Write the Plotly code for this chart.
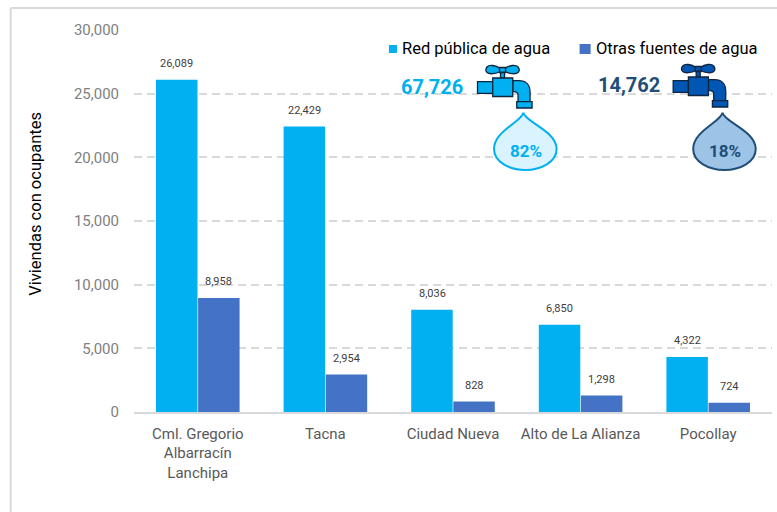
import plotly.graph_objects as go

W, H = 777, 512
L, R, T, B = 134.25, 771.75, 30, 412

categories = ["Cml. Gregorio<br>Albarracín<br>Lanchipa", "Tacna", "Ciudad Nueva", "Alto de La Alianza", "Pocollay"]
red_publica = [26089, 22429, 8036, 6850, 4322]
otras_fuentes = [8958, 2954, 828, 1298, 724]
y_ticks = [0, 5000, 10000, 15000, 20000, 25000, 30000]
series_names = ["Red pública de agua", "Otras fuentes de agua"]
totals = ["67,726", "14,762"]
shares = ["82%", "18%"]

FONT = "Roboto"
C1, C2 = "#00B0F0", "#4472C4"
NAVY = "#1F4E79"
LAB = "#595959"
EDGE = "#10253F"


def px(x):
    return (x - L) / (R - L)


def py(y):
    return (B - y) / (B - T)


def d_path(spec, dx=0, dy=0):
    """spec: list of (command, x, y, x, y, ...) in page pixels."""
    parts = []
    for item in spec:
        cmd, nums = item[0], item[1:]
        coords = []
        for i in range(0, len(nums), 2):
            coords.append(f"{px(nums[i] + dx):.5f},{py(nums[i + 1] + dy):.5f}")
        parts.append(cmd + " ".join(coords))
    return " ".join(parts) + " Z"


def paper_shape(spec, dx, dy, fill, edge=EDGE, width=1.3):
    return dict(type="path", xref="paper", yref="paper", path=d_path(spec, dx, dy), fillcolor=fill,
                line=dict(color=edge, width=width), layer="above")


HANDLE_L = [("M", 500, 68.5), ("C", 496, 65, 489, 64.5, 487, 67), ("C", 485.5, 69, 485.5, 71, 487, 72.5),
            ("C", 489, 74.5, 496, 74, 500, 71.5)]
HANDLE_R = [("M", 505, 68.5), ("C", 509, 65, 516, 64.5, 518, 67), ("C", 519.5, 69, 519.5, 71, 518, 72.5),
            ("C", 516, 74.5, 509, 74, 505, 71.5)]
KNOB = [("M", 499.5, 67.5), ("L", 505.5, 67.5), ("L", 505.5, 72.5), ("L", 499.5, 72.5)]
STEM = [("M", 500.5, 72.5), ("L", 504.5, 72.5), ("L", 504.5, 78), ("L", 500.5, 78)]
INLET = [("M", 477.5, 81.7), ("L", 492.7, 81.7), ("L", 492.7, 93.3), ("L", 477.5, 93.3)]
SPOUT = [("M", 512.7, 80.7), ("L", 519, 80.7), ("C", 526, 80.7, 530, 85, 530, 92), ("L", 530, 101.7),
         ("L", 518, 101.7), ("L", 518, 95), ("C", 518, 93, 516, 91.7, 514, 91.7), ("L", 512.7, 91.7)]
OUTLET = [("M", 516.7, 101.7), ("L", 532, 101.7), ("L", 532, 108), ("L", 516.7, 108)]
BODY = [("M", 492.7, 78), ("L", 512.7, 78), ("L", 512.7, 96.5), ("L", 492.7, 96.5)]
DROP = [("M", 523.3, 112.7), ("C", 525, 122, 556.5, 131, 556.5, 149), ("C", 556.5, 162, 541, 170, 525.3, 170),
        ("C", 509.5, 170, 494, 162, 494, 149), ("C", 494, 131, 521.5, 122, 523.3, 112.7)]


def faucet(dx, dy, fill):
    return [paper_shape(s, dx, dy, fill) for s in (HANDLE_L, HANDLE_R, KNOB, STEM, INLET, SPOUT, OUTLET, BODY)]


fig = go.Figure()
fig.add_bar(x=categories, y=red_publica, name=series_names[0], marker=dict(color=C1, line=dict(width=0)))
fig.add_bar(x=categories, y=otras_fuentes, name=series_names[1], marker=dict(color=C2, line=dict(width=0)))

BORDER = "#D9D9D9"
shapes = [
    dict(type="line", xref="paper", yref="paper", x0=px(11), x1=px(11), y0=py(8), y1=py(H),
         line=dict(color=BORDER, width=2)),
    dict(type="line", xref="paper", yref="paper", x0=px(11), x1=px(W), y0=py(8), y1=py(8),
         line=dict(color=BORDER, width=2)),
    dict(type="rect", xref="paper", yref="paper", x0=px(389), x1=px(397), y0=py(45), y1=py(53),
         fillcolor=C1, line=dict(width=0)),
    dict(type="rect", xref="paper", yref="paper", x0=px(579.5), x1=px(590.5), y0=py(44), y1=py(54),
         fillcolor=C2, line=dict(width=0)),
]
shapes += faucet(0, 0, C1) + faucet(195.5, -1, "#0056B3")
shapes += [paper_shape(DROP, 0, 0, "#D9F3FF", C1, 2), paper_shape(DROP, 199, 0, "#9DC3E6", NAVY, 2)]

ann = [
    dict(x=px(400.5), y=py(48.5), text=series_names[0], xanchor="left", font=dict(family=FONT, size=16.5, color="#000000")),
    dict(x=px(593.5), y=py(48.5), text=series_names[1], xanchor="left", font=dict(family=FONT, size=16.5, color="#000000")),
    dict(x=px(432), y=py(87), text=totals[0], font=dict(family=FONT, size=20, weight=700, color=C1)),
    dict(x=px(629), y=py(85), text=totals[1], font=dict(family=FONT, size=20, weight=700, color=NAVY)),
    dict(x=px(525.5), y=py(151), text=shares[0], font=dict(family=FONT, size=17, weight=700, color=C1)),
    dict(x=px(724.3), y=py(151), text=shares[1], font=dict(family=FONT, size=17, weight=700, color=NAVY)),
    dict(x=px(35), y=py(204), text="Viviendas con ocupantes", textangle=-90,
         font=dict(family=FONT, size=16.5, color="#000000")),
]
for a in ann:
    a.update(xref="paper", yref="paper", showarrow=False, yanchor="middle")
    a.setdefault("xanchor", "center")

# value labels sit on the bars, lifted clear of them as in the original
for values, shift in ((red_publica, -21), (otras_fuentes, 21)):
    for cat, v in zip(categories, values):
        ann.append(dict(x=cat, y=v, xref="x", yref="y", text=f"{v:,}", showarrow=False, xshift=shift, yshift=16,
                        xanchor="center", yanchor="middle", font=dict(family=FONT, size=11, color="#404040")))

fig.update_layout(
    width=W, height=H, margin=dict(l=L, r=W - R, t=T, b=H - B, pad=0), autosize=False,
    paper_bgcolor="white", plot_bgcolor="white", barmode="group", bargap=0.34, bargroupgap=0.015,
    shapes=shapes, annotations=ann, showlegend=False,
    xaxis=dict(type="category", tickfont=dict(family=FONT, size=15, color=LAB), ticks="", showgrid=False,
               showline=True, linecolor="#D9D9D9", linewidth=1.5, range=[-0.5, 4.5], ticklabelstandoff=7),
    yaxis=dict(range=[0, 30000], tickvals=y_ticks, tickformat=",", ticks="", showline=False, zeroline=False,
               tickfont=dict(family=FONT, size=15, color="#7F7F7F"), gridcolor="#D9D9D9",
               griddash="8px,5px", gridwidth=1.5, ticklabelstandoff=14),
)
fig.write_html("out.html", config=dict(displayModeBar=False), post_script="document.body.style.margin='0';")
